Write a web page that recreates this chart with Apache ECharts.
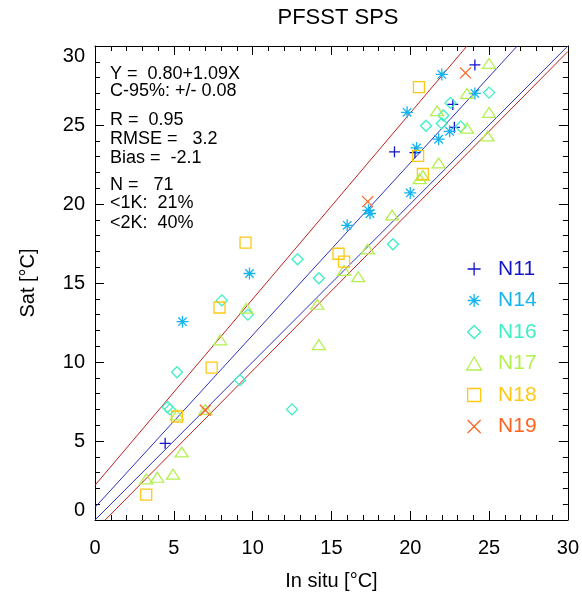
<!DOCTYPE html>
<html>
<head>
<meta charset="utf-8">
<script src="https://cdn.jsdelivr.net/npm/echarts@6/dist/echarts.min.js"></script>
<style>html,body{margin:0;padding:0;background:#fff;}#c{width:582px;height:602px;}</style>
</head>
<body>
<div id="c"></div>
<script>
// ---- data ----
const seriesNames = ['N11', 'N14', 'N16', 'N17', 'N18', 'N19'];
const n11 = [[24.1,28.8],[22.7,26.3],[22.8,24.85],[19.0,23.3],[20.3,23.25],[4.45,4.85]];
const n14 = [[22.0,28.2],[24.1,27.0],[22.5,24.6],[21.8,24.1],[19.8,25.8],[20.4,23.55],[20.0,20.7],[17.35,19.6],[17.45,19.4],[16.0,18.65],[9.8,15.6],[5.55,12.55]];
const n16 = [[25.0,27.05],[22.55,26.4],[22.1,25.6],[22.0,25.1],[23.2,24.9],[21.0,24.95],[18.9,17.45],[12.85,16.5],[14.2,15.3],[8.05,13.9],[9.7,13.0],[5.2,9.35],[9.2,8.85],[4.6,7.15],[4.75,7.0],[12.5,7.0]];
const n17 = [[25.0,28.9],[23.6,27.0],[21.7,25.9],[25.0,25.8],[23.6,24.8],[24.9,24.3],[21.8,22.6],[20.8,21.8],[20.6,21.6],[18.85,19.3],[17.3,17.15],[15.8,15.8],[16.7,15.4],[14.1,13.65],[14.2,11.1],[9.6,13.4],[7.95,11.4],[5.2,6.65],[7.0,7.0],[5.5,4.3],[3.25,2.6],[3.95,2.7],[4.95,2.9]];
const n18 = [[20.55,27.4],[20.5,23.05],[20.8,21.9],[15.45,16.85],[15.8,16.35],[9.55,17.55],[7.9,13.45],[7.4,9.65],[5.2,6.55],[3.25,1.6]];
const n19 = [[23.5,28.3],[17.3,20.15],[7.0,6.95]];
const seriesData = [n11, n14, n16, n17, n18, n19];
// reference / regression lines: intercept, slope
const lineIntercepts = [0.80, 0.0, 2.2, -0.65];
const lineSlopes = [1.09, 1.0, 1.178, 1.01];
const axisMin = 0, axisMax = 30, axisStep = 5;
const xTickLabels = ['0','5','10','15','20','25','30'];
const statsLines = ['Y =  0.80+1.09X', 'C-95%: +/- 0.08', 'R =  0.95', 'RMSE =   3.2', 'Bias =  -2.1', 'N =   71', '<1K:  21%', '<2K:  40%'];

// ---- styles ----
const colors = ['#1414c8', '#14b4f0', '#3cf0c4', '#b4f050', '#ffc814', '#ff6420'];
const symbols = [
  'path://M0,5L10,5M5,0L5,10',
  'path://M0,5L10,5M5,0L5,10M1.5,1.5L8.5,8.5M1.5,8.5L8.5,1.5',
  'path://M5,0L10,5L5,10L0,5Z',
  'path://M5,0L10,8.7L0,8.7Z',
  'path://M0,0L10,0L10,10L0,10Z',
  'path://M0,0L10,10M0,10L10,0'
];
const symbolSizes = [[11,11],[12,12],[11,11],[13,11.3],[11,11],[11,11]];
const lineColors = ['#3030c0', '#3030c0', '#c02020', '#c02020'];
const statsTops = [65, 82, 111, 130, 149, 176, 194, 214];
const FONT = 'Liberation Sans';

function clipLine(a, b) {
  let x0 = axisMin, x1 = axisMax;
  if (b !== 0) {
    x0 = Math.max(x0, (axisMin - a) / b);
    x1 = Math.min(x1, (axisMax - a) / b);
  }
  return [[x0, a + b * x0], [x1, a + b * x1]];
}

const baseAxis = {
  type: 'value', min: axisMin, max: axisMax, interval: axisStep,
  axisLine: { show: true, onZero: false, lineStyle: { color: '#000', width: 1 } },
  axisTick: { show: true, inside: true, length: 9, lineStyle: { color: '#000', width: 1 } },
  minorTick: { show: true, splitNumber: 5, length: 5, lineStyle: { color: '#000', width: 1 } },
  splitLine: { show: false },
  minorSplitLine: { show: false }
};

const series = [];
lineIntercepts.forEach((a, i) => {
  series.push({
    type: 'line', data: clipLine(a, lineSlopes[i]), symbol: 'none', silent: true,
    lineStyle: { color: lineColors[i], width: 1 }, z: 1
  });
});
seriesNames.forEach((n, i) => {
  series.push({
    name: n, type: 'scatter', data: seriesData[i], symbol: symbols[i], symbolSize: symbolSizes[i],
    symbolKeepAspect: true,
    itemStyle: { color: 'rgba(0,0,0,0)', borderColor: colors[i], borderWidth: 1.3, opacity: 1 },
    z: 3
  });
});

const chart = echarts.init(document.getElementById('c'), null, { renderer: 'canvas' });
chart.setOption({
  animation: false,
  backgroundColor: '#fff',
  title: {
    text: 'PFSST SPS', left: 333, top: 2, textAlign: 'center',
    textStyle: { fontFamily: FONT, fontSize: 22, fontWeight: 'normal', color: '#000' }
  },
  grid: { left: 95, right: 14, top: 46, bottom: 82 },
  xAxis: [
    Object.assign({}, baseAxis, {
      position: 'bottom', name: 'In situ [°C]', nameLocation: 'middle', nameGap: 51,
      nameTextStyle: { fontFamily: FONT, fontSize: 20, color: '#000' },
      axisLabel: { margin: 18, fontFamily: FONT, fontSize: 20, color: '#000',
        formatter: (v) => xTickLabels[Math.round((v - axisMin) / axisStep)] }
    }),
    Object.assign({}, baseAxis, { position: 'top', axisLabel: { show: false } })
  ],
  yAxis: [
    Object.assign({}, baseAxis, {
      position: 'left', name: 'Sat [°C]', nameLocation: 'middle', nameGap: 57,
      nameTextStyle: { fontFamily: FONT, fontSize: 20, color: '#000' },
      axisLabel: { margin: 10, fontFamily: FONT, fontSize: 20, color: '#000',
        verticalAlignMaxLabel: 'top', verticalAlignMinLabel: 'bottom' }
    }),
    Object.assign({}, baseAxis, { position: 'right', axisLabel: { show: false } })
  ],
  legend: {
    orient: 'vertical', left: 461, top: 253, itemWidth: 38, itemHeight: 13, itemGap: 9.5,
    selectedMode: false,
    itemStyle: { borderWidth: 1.3 },
    textStyle: { fontFamily: FONT, fontSize: 21, lineHeight: 22 },
    data: seriesNames.map((n, i) => ({ name: n, textStyle: { color: colors[i] } }))
  },
  graphic: statsLines.map((t, i) => ({
    type: 'text', left: 110, top: statsTops[i],
    style: { text: t, font: '18px "' + FONT + '"', fill: '#000' }
  })),
  series: series
});
</script>
</body>
</html>
